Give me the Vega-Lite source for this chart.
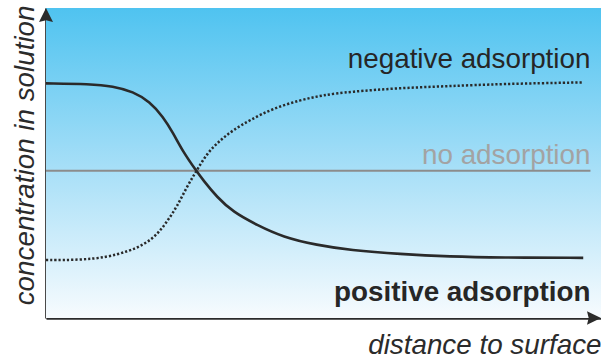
{
  "$schema": "https://vega.github.io/schema/vega-lite/v6.json",
  "width": 555,
  "height": 310,
  "autosize": {"type": "none"},
  "padding": {"left": 46, "top": 8, "right": 0, "bottom": 42},
  "background": "#ffffff",
  "config": {"view": {"stroke": null}, "font": "Liberation Sans"},
  "datasets": {
    "panel": [{"x": 0, "x2": 100, "y": 0, "y2": 100}],
    "positive": [
      {"x": 0, "y": 75.7}, {"x": 7.9, "y": 75.5}, {"x": 12.1, "y": 74.8}, {"x": 15.7, "y": 73.0},
      {"x": 18.7, "y": 69.8}, {"x": 21.1, "y": 64.9}, {"x": 22.9, "y": 59.7}, {"x": 24.7, "y": 53.6},
      {"x": 27.1, "y": 47.4}, {"x": 28.3, "y": 44.5}, {"x": 30.8, "y": 39.0}, {"x": 33.7, "y": 34.2},
      {"x": 38.0, "y": 30.0}, {"x": 42.7, "y": 26.1}, {"x": 48.8, "y": 23.5}, {"x": 54.8, "y": 21.9},
      {"x": 63.8, "y": 20.6}, {"x": 72.8, "y": 19.8}, {"x": 81.8, "y": 19.5}, {"x": 96.8, "y": 19.4}
    ],
    "negative": [
      {"x": 0, "y": 18.7}, {"x": 6.1, "y": 18.7}, {"x": 11.0, "y": 19.6}, {"x": 14.6, "y": 21.4},
      {"x": 17.5, "y": 23.5}, {"x": 20.0, "y": 26.8}, {"x": 21.8, "y": 31.1}, {"x": 23.6, "y": 35.9},
      {"x": 25.4, "y": 42.4}, {"x": 27.1, "y": 47.4}, {"x": 29.0, "y": 53.1}, {"x": 31.4, "y": 57.4},
      {"x": 33.7, "y": 60.6}, {"x": 36.8, "y": 63.9}, {"x": 40.9, "y": 67.6}, {"x": 45.8, "y": 70.3},
      {"x": 49.9, "y": 71.9}, {"x": 54.8, "y": 73.0}, {"x": 63.8, "y": 74.2}, {"x": 72.8, "y": 74.8},
      {"x": 81.8, "y": 75.5}, {"x": 96.6, "y": 76.0}
    ],
    "none": [{"x": 0, "y": 47.5}, {"x": 98.1, "y": 47.5}],
    "yTip": [{"x": 0, "y": 100}],
    "xTip": [{"x": 100, "y": 0}],
    "labelNegative": [{"x": 98.1, "y": 80.5, "label": "negative adsorption"}],
    "labelNone": [{"x": 98.1, "y": 49.6, "label": "no adsorption"}],
    "labelPositive": [{"x": 98.1, "y": 5.5, "label": "positive adsorption"}]
  },
  "encoding": {
    "x": {
      "field": "x",
      "type": "quantitative",
      "scale": {"domain": [0, 100], "nice": false, "zero": false},
      "axis": {
        "title": "distance to surface",
        "ticks": false,
        "labels": false,
        "grid": false,
        "domainColor": "#2b2b2b",
        "domainWidth": 2.7,
        "titleFont": "Liberation Sans",
        "titleFontSize": 27.8,
        "titleFontStyle": "italic",
        "titleFontWeight": "normal",
        "titleColor": "#2b2b2b",
        "titleAlign": "right",
        "titleBaseline": "alphabetic",
        "titleX": 555,
        "titleY": 35
      }
    },
    "y": {
      "field": "y",
      "type": "quantitative",
      "scale": {"domain": [0, 100], "nice": false, "zero": false},
      "axis": {
        "title": "concentration in solution",
        "ticks": false,
        "labels": false,
        "grid": false,
        "domainColor": "#2b2b2b",
        "domainWidth": 2.7,
        "titleFont": "Liberation Sans",
        "titleFontSize": 27.8,
        "titleFontStyle": "italic",
        "titleFontWeight": "normal",
        "titleColor": "#2b2b2b",
        "titleAngle": 270,
        "titleAlign": "right",
        "titleBaseline": "alphabetic",
        "titleX": -13,
        "titleY": -3
      }
    }
  },
  "layer": [
    {
      "data": {"name": "panel"},
      "mark": {
        "type": "rect",
        "fill": {
          "gradient": "linear",
          "x1": 0, "y1": 0, "x2": 0, "y2": 1,
          "stops": [
            {"offset": 0, "color": "#4fc3f0"},
            {"offset": 0.5, "color": "#a4def7"},
            {"offset": 1, "color": "#f7fbfe"}
          ]
        }
      },
      "encoding": {"x2": {"field": "x2"}, "y2": {"field": "y2"}}
    },
    {
      "data": {"name": "none"},
      "mark": {"type": "line", "color": "#8c8c8c", "strokeWidth": 2.2}
    },
    {
      "data": {"name": "positive"},
      "mark": {"type": "line", "color": "#2a2a2a", "strokeWidth": 2.6, "interpolate": "basis"}
    },
    {
      "data": {"name": "negative"},
      "mark": {
        "type": "line",
        "color": "#2a2a2a",
        "strokeWidth": 2.5,
        "strokeDash": [2.2, 2.0],
        "strokeCap": "butt",
        "interpolate": "basis"
      }
    },
    {
      "data": {"name": "yTip"},
      "mark": {
        "type": "point",
        "filled": true,
        "opacity": 1,
        "color": "#2b2b2b",
        "size": 784,
        "shape": "M0,0 L0.5,1 L0,0.88 L-0.5,1 Z"
      }
    },
    {
      "data": {"name": "xTip"},
      "mark": {
        "type": "point",
        "filled": true,
        "opacity": 1,
        "color": "#2b2b2b",
        "size": 784,
        "shape": "M0,0 L-1,0.48 L-0.88,0 L-1,-0.48 Z"
      }
    },
    {
      "data": {"name": "labelNegative"},
      "mark": {"type": "text", "align": "right", "baseline": "alphabetic", "fontSize": 27.8, "color": "#262626"},
      "encoding": {"text": {"field": "label"}}
    },
    {
      "data": {"name": "labelNone"},
      "mark": {"type": "text", "align": "right", "baseline": "alphabetic", "fontSize": 27.8, "color": "#a3a3a3"},
      "encoding": {"text": {"field": "label"}}
    },
    {
      "data": {"name": "labelPositive"},
      "mark": {"type": "text", "align": "right", "baseline": "alphabetic", "fontSize": 27.8, "fontWeight": "bold", "color": "#262626"},
      "encoding": {"text": {"field": "label"}}
    }
  ]
}
